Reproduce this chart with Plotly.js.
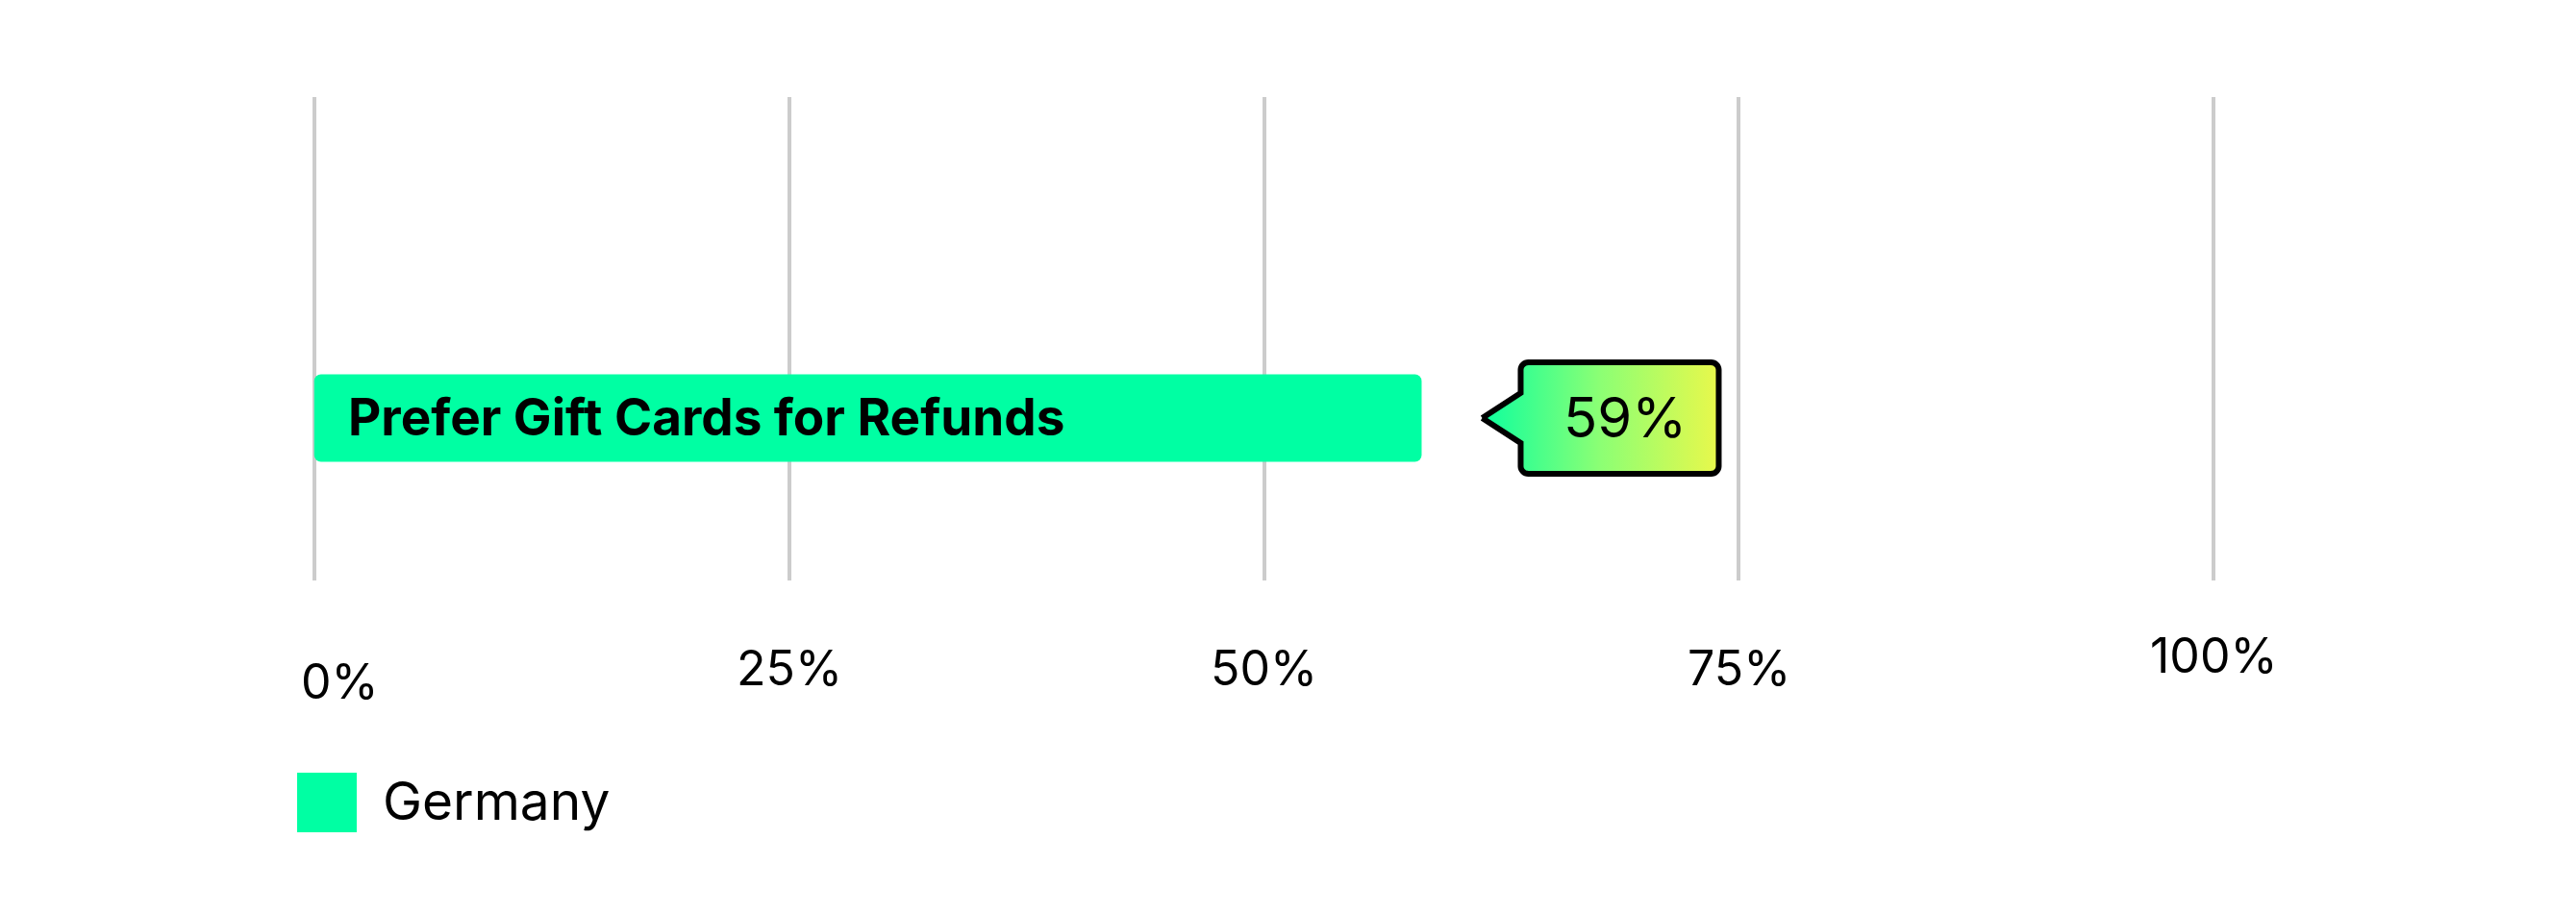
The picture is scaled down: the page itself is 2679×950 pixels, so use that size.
<!DOCTYPE html>
<html>
<head>
<meta charset="utf-8">
<script src="https://cdn.plot.ly/plotly-3.0.1.min.js"></script>
<style>
  html, body { margin: 0; padding: 0; background: #ffffff; }
  #chart { width: 2679px; height: 950px; }
</style>
</head>
<body>
<div id="chart"></div>
<script>
// ---------------- data ----------------
const categories = ["Prefer Gift Cards for Refunds"];
const seriesName = "Germany";
const values = [58.3];
const valueLabels = ["59%"];
const tickValues = [0, 25, 50, 75, 100];
const tickLabels = ["0%", "25%", "50%", "75%", "100%"];

// ---------------- layout constants ----------------
const W = 2679, H = 950;
const M = { l: 307, r: 357, t: 101, b: 346 };
const plotW = W - M.l - M.r;
const plotH = H - M.t - M.b;
const xr = [-1, 101];
const yr = [-0.336, 0.664];
const FONT = "Inter, 'Noto Sans', sans-serif";
const BAR_COLOR = "#00ffa3";

const xToPx = v => M.l + (v - xr[0]) / (xr[1] - xr[0]) * plotW;
const pxToX = p => xr[0] + (p - M.l) / plotW * (xr[1] - xr[0]);
const yToPx = v => M.t + (yr[1] - v) / (yr[1] - yr[0]) * plotH;
const pxToY = p => yr[1] - (p - M.t) / plotH * (yr[1] - yr[0]);
const pxToPaperX = p => (p - M.l) / plotW;
const pxToPaperY = p => (M.t + plotH - p) / plotH;

const barWidthPx = 91;
const barWidth = barWidthPx / plotH * (yr[1] - yr[0]);

// ---------------- traces ----------------
const yIdx = categories.map((c, i) => i);

const barTrace = {
  type: "bar",
  orientation: "h",
  name: seriesName,
  x: values,
  y: yIdx,
  base: 0,
  width: barWidth,
  marker: { color: BAR_COLOR, cornerradius: 7, line: { width: 0 } },
  hoverinfo: "skip",
  showlegend: false
};

// callout geometry (in pixels, relative to bar end), mapped through axis scales
function calloutTrace(value, yi) {
  const tipX = xToPx(value) + 63;
  const ty = yToPx(yi);
  const bx0 = tipX + 40, bx1 = tipX + 246;
  const top = ty - 58, bot = ty + 58;
  const notch = 26, r = 8;
  const pts = [];
  pts.push([tipX, ty]);
  pts.push([bx0, ty - notch]);
  const arc = (cx, cy, a0, a1) => {
    const n = 8;
    for (let k = 0; k <= n; k++) {
      const a = (a0 + (a1 - a0) * k / n) * Math.PI / 180;
      pts.push([cx + r * Math.cos(a), cy + r * Math.sin(a)]);
    }
  };
  arc(bx0 + r, top + r, 180, 270);
  arc(bx1 - r, top + r, 270, 360);
  arc(bx1 - r, bot - r, 0, 90);
  arc(bx0 + r, bot - r, 90, 180);
  pts.push([bx0, ty + notch]);
  pts.push([tipX, ty]);
  return {
    trace: {
      type: "scatter",
      mode: "lines",
      x: pts.map(p => pxToX(p[0])),
      y: pts.map(p => pxToY(p[1])),
      fill: "toself",
      fillgradient: {
        type: "horizontal",
        colorscale: [[0, "#0dff9e"], [0.5, "#8cff74"], [1, "#e9f84b"]]
      },
      line: { color: "#000000", width: 6, simplify: false },
      hoverinfo: "skip",
      showlegend: false,
      cliponaxis: false
    },
    cx: pxToX((bx0 + bx1) / 2),
    cy: yi
  };
}

const callouts = values.map((v, i) => calloutTrace(v, i));

// ---------------- annotations ----------------
const annotations = [];

// bar labels inside bars
categories.forEach((c, i) => {
  annotations.push({
    x: 0, y: i, xref: "x", yref: "y",
    text: "<b>" + c + "</b>",
    showarrow: false, xanchor: "left", yanchor: "middle",
    xshift: 33, yshift: 1,
    font: { family: FONT, size: 53, color: "#000000" }
  });
});

// value labels in callouts
callouts.forEach((c, i) => {
  annotations.push({
    x: c.cx, y: c.cy, xref: "x", yref: "y",
    text: valueLabels[i],
    showarrow: false, xanchor: "center", yanchor: "middle",
    xshift: 6, yshift: 1,
    font: { family: FONT, size: 58, color: "#000000" }
  });
});

// x tick labels (staggered as in the original)
const tickNudge = [[27, 709], [0, 695], [0, 695], [0, 695], [0, 682]];
tickValues.forEach((v, i) => {
  annotations.push({
    x: v, xref: "x",
    y: pxToPaperY(tickNudge[i][1]), yref: "paper",
    text: tickLabels[i],
    showarrow: false, xanchor: "center", yanchor: "middle",
    xshift: tickNudge[i][0],
    font: { family: FONT, size: 50, color: "#000000" }
  });
});

// legend label
annotations.push({
  x: pxToPaperX(396), xref: "paper",
  y: pxToPaperY(833), yref: "paper",
  text: seriesName,
  showarrow: false, xanchor: "left", yanchor: "middle",
  font: { family: FONT, size: 55, color: "#000000" }
});

const shapes = [{
  type: "rect", xref: "paper", yref: "paper",
  x0: pxToPaperX(309), x1: pxToPaperX(371),
  y0: pxToPaperY(866), y1: pxToPaperY(804),
  fillcolor: BAR_COLOR, line: { width: 0 }, layer: "above"
}];

const layout = {
  width: W, height: H,
  margin: M,
  paper_bgcolor: "#ffffff",
  plot_bgcolor: "#ffffff",
  showlegend: false,
  font: { family: FONT, color: "#000000" },
  xaxis: {
    range: xr,
    tickvals: tickValues,
    showticklabels: false,
    showgrid: true,
    gridcolor: "#cccccc",
    gridwidth: 4,
    zeroline: false,
    showline: false,
    ticks: "",
    fixedrange: true
  },
  yaxis: {
    range: yr,
    showticklabels: false,
    showgrid: false,
    zeroline: false,
    showline: false,
    ticks: "",
    fixedrange: true
  },
  annotations: annotations,
  shapes: shapes
};

Plotly.newPlot("chart", [barTrace].concat(callouts.map(c => c.trace)), layout,
  { staticPlot: true, displayModeBar: false });
</script>
</body>
</html>
